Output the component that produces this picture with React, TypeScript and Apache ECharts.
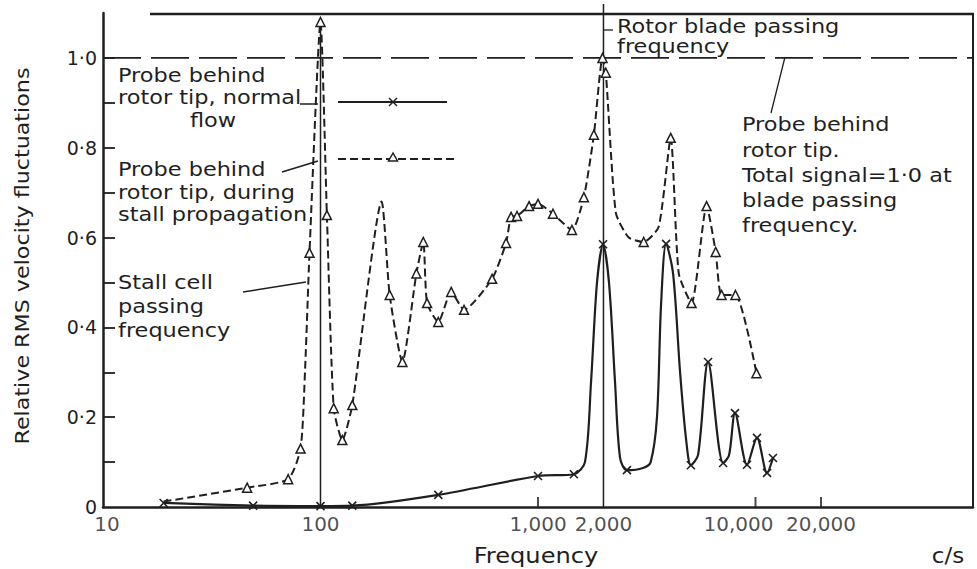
import React, { useEffect, useRef } from 'react';
import * as echarts from 'echarts';

// ---- axis ticks / labels ----
const X_TICK_VALUES = [10, 100, 1000, 2000, 10000, 20000];
const X_TICK_LABELS = ['10', '100', '1,000', '2,000', '10,000', '20,000'];
const X_TICK_MARKS = [1000, 10000, 20000];
const Y_LABEL_VALUES = [0, 0.2, 0.4, 0.6, 0.8, 1.0];
const Y_LABELS = ['0', '0·2', '0·4', '0·6', '0·8', '1·0'];
const Y_TICK_VALUES = [0.1, 0.2, 0.3, 0.4, 0.5, 0.6, 0.7, 0.8, 0.9, 1.0];
const X_TITLE = 'Frequency';
const Y_TITLE = 'Relative RMS velocity fluctuations';
const X_UNIT = 'c/s';

// ---- reference lines ----
const TOTAL_SIGNAL_LEVEL = 1.0;
const STALL_CELL_FREQ = 100;
const STALL_CELL_TOP = 1.08;
const BLADE_FREQ = 2000;
const BLADE_TOP = 1.12;

// ---- probe behind rotor tip, during stall propagation (triangles) ----
const stallFreq = [19, 46, 71, 81, 85, 89, 100, 107, 115, 126, 140, 191, 208, 238, 276, 297, 309, 348, 399, 457, 615, 713, 752, 801, 910, 1000, 1172, 1432, 1625, 1807, 1980, 2050, 2280, 2612, 3062, 3589, 4075, 4437, 5080, 5957, 6560, 6983, 8090, 10100];
const stallValue = [0.012, 0.043, 0.062, 0.13, 0.31, 0.566, 1.08, 0.65, 0.22, 0.149, 0.227, 0.68, 0.472, 0.323, 0.52, 0.59, 0.454, 0.412, 0.479, 0.439, 0.508, 0.588, 0.646, 0.648, 0.67, 0.675, 0.653, 0.617, 0.69, 0.829, 1.0, 0.967, 0.655, 0.6, 0.59, 0.624, 0.822, 0.52, 0.454, 0.67, 0.568, 0.472, 0.472, 0.298];
const stallMarked = [0, 1, 1, 1, 0, 1, 1, 1, 1, 1, 1, 0, 1, 1, 1, 1, 1, 1, 1, 1, 1, 1, 1, 1, 1, 1, 1, 1, 1, 1, 1, 1, 0, 0, 1, 0, 1, 0, 1, 1, 1, 1, 1, 1];

// ---- probe behind rotor tip, normal flow (crosses) ----
const normalFreq = [19, 49, 100, 140, 348, 1000, 1462, 1644, 1754, 1868, 1991, 2120, 2259, 2383, 2564, 3041, 3296, 3524, 3679, 3881, 4178, 4500, 4797, 5047, 5445, 6053, 7100, 7555, 8050, 9140, 10160, 11300, 12030];
const normalValue = [0.009, 0.003, 0.002, 0.003, 0.027, 0.069, 0.073, 0.1, 0.28, 0.5, 0.585, 0.5, 0.28, 0.11, 0.082, 0.087, 0.1, 0.2, 0.45, 0.586, 0.52, 0.3, 0.15, 0.093, 0.116, 0.323, 0.098, 0.115, 0.209, 0.094, 0.154, 0.076, 0.109];
const normalMarked = [1, 1, 1, 1, 1, 1, 1, 0, 0, 0, 1, 0, 0, 0, 1, 0, 0, 0, 0, 1, 0, 0, 0, 1, 0, 1, 1, 0, 1, 1, 1, 1, 1];

// ---- annotation texts ----
const NOTE_NORMAL = 'Probe behind\nrotor tip, normal';
const NOTE_NORMAL_TAIL = 'flow';
const NOTE_STALL = 'Probe behind\nrotor tip, during\nstall propagation';
const NOTE_CELL = 'Stall cell\npassing\nfrequency';
const NOTE_BLADE = 'Rotor blade passing\nfrequency';
const NOTE_TOTAL = 'Probe behind\nrotor tip.\nTotal signal=1·0 at\nblade passing\nfrequency.';

const INK = '#1f1f1f';
const FONT = '"DejaVu Sans", sans-serif';
const CROSS = 'path://M0,0L10,10M10,0L0,10';
const STRETCH = 1.18;

function pts(freq: number[], val: number[], marked: number[]) {
  return freq.map((f, i) => (marked[i] ? { value: [f, val[i]] } : { value: [f, val[i]], symbol: 'none' }));
}

function block(text: string, x: number, firstCenterY: number, lineHeight: number, size = 19, align = 'left') {
  return {
    type: 'text',
    x,
    y: firstCenterY - lineHeight / 2,
    scaleX: STRETCH,
    silent: true,
    style: {
      text,
      fill: INK,
      font: `${size}px "DejaVu Sans", sans-serif`,
      align,
      verticalAlign: 'top',
      lineHeight,
    },
  };
}
function seg(x1: number, y1: number, x2: number, y2: number, width = 1.5, dash?: number[]) {
  return {
    type: 'line',
    silent: true,
    shape: { x1, y1, x2, y2 },
    style: { stroke: INK, lineWidth: width, lineDash: dash },
  };
}

export default function App() {
  const ref = useRef<HTMLDivElement>(null);
  useEffect(() => {
    if (!ref.current) return;
    const chart = echarts.init(ref.current, undefined, { renderer: 'svg' });
    const labelShift: Record<string, number[]> = { '10': [4, 0], '10,000': [-17, 0] };
    const option: any = {
      animation: false,
      backgroundColor: '#ffffff',
      grid: { left: 103, right: 4, top: 13, bottom: 62 },
      xAxis: {
        type: 'log',
        logBase: 10,
        min: 10,
        max: 100000,
        axisLine: { show: true, lineStyle: { color: INK, width: 2.5 } },
        axisTick: { show: false },
        minorTick: { show: false },
        axisLabel: { show: false },
        splitLine: { show: false },
      },
      yAxis: {
        type: 'value',
        min: 0,
        max: 1.1,
        interval: 0.1,
        axisLine: { show: true, lineStyle: { color: INK, width: 2.5 } },
        axisTick: { show: true, inside: true, length: 12, customValues: Y_TICK_VALUES, lineStyle: { color: INK, width: 1.8 } },
        axisLabel: {
          customValues: Y_LABEL_VALUES,
          formatter: (v: number) => {
            const i = Y_LABEL_VALUES.findIndex((t) => Math.abs(t - v) < 1e-6);
            return i >= 0 ? Y_LABELS[i] : '';
          },
          fontFamily: FONT,
          fontSize: 19,
          color: INK,
          margin: 6,
        },
        splitLine: { show: false },
      },
      series: [
        {
          name: 'Total signal',
          type: 'line',
          data: [[10, TOTAL_SIGNAL_LEVEL], [100000, TOTAL_SIGNAL_LEVEL]],
          symbol: 'none',
          silent: true,
          lineStyle: { color: INK, width: 1.6, type: [38, 10] },
        },
        {
          name: 'Stall cell passing frequency',
          type: 'line',
          data: [[STALL_CELL_FREQ, 0], [STALL_CELL_FREQ, STALL_CELL_TOP]],
          symbol: 'none',
          silent: true,
          lineStyle: { color: INK, width: 1.5 },
        },
        {
          name: 'Rotor blade passing frequency',
          type: 'line',
          data: [[BLADE_FREQ, 0], [BLADE_FREQ, BLADE_TOP]],
          symbol: 'none',
          silent: true,
          clip: false,
          lineStyle: { color: INK, width: 1.5 },
        },
        {
          name: 'Probe behind rotor tip, during stall propagation',
          type: 'line',
          data: pts(stallFreq, stallValue, stallMarked),
          smooth: 0.2,
          symbol: 'triangle',
          symbolSize: 9,
          itemStyle: { color: '#ffffff', borderColor: INK, borderWidth: 1.5 },
          lineStyle: { color: INK, width: 2, type: [8, 4] },
          z: 3,
        },
        {
          name: 'Probe behind rotor tip, normal flow',
          type: 'line',
          data: pts(normalFreq, normalValue, normalMarked),
          smooth: 0.3,
          symbol: CROSS,
          symbolSize: 8,
          itemStyle: { color: INK, borderColor: INK, borderWidth: 1.6 },
          lineStyle: { color: INK, width: 2.2 },
          z: 3,
        },
        {
          name: 'x ticks',
          type: 'scatter',
          data: X_TICK_MARKS.map((f) => [f, 0]),
          symbol: 'rect',
          symbolSize: [2, 10],
          symbolOffset: [0, -5],
          itemStyle: { color: INK },
          silent: true,
          clip: false,
        },
        {
          name: 'x labels',
          type: 'scatter',
          data: X_TICK_VALUES.map((f, i) => ({
            value: [f, 0],
            label: { offset: labelShift[X_TICK_LABELS[i]] || [0, 0] },
          })),
          symbolSize: 1,
          itemStyle: { color: 'rgba(0,0,0,0)' },
          silent: true,
          clip: false,
          label: {
            show: true,
            position: 'bottom',
            distance: 6,
            formatter: (p: any) => X_TICK_LABELS[p.dataIndex],
            fontFamily: FONT,
            fontSize: 20,
            color: INK,
          },
        },
      ],
      graphic: [
        // frame (top and right)
        seg(150, 14, 974, 14, 2.5),
        seg(973, 14, 973, 507, 2),
        // axis titles
        {
          type: 'text',
          x: 23,
          y: 256,
          rotation: Math.PI / 2,
          scaleX: 1.17,
          silent: true,
          style: { text: Y_TITLE, fill: INK, font: `19px "DejaVu Sans", sans-serif`, align: 'center', verticalAlign: 'middle' },
        },
        {
          type: 'text',
          x: 536,
          y: 556,
          scaleX: 1.15,
          silent: true,
          style: { text: X_TITLE, fill: INK, font: `21px "DejaVu Sans", sans-serif`, align: 'center', verticalAlign: 'middle' },
        },
        {
          type: 'text',
          x: 948,
          y: 556,
          scaleX: 1.1,
          silent: true,
          style: { text: X_UNIT, fill: INK, font: `21px "DejaVu Sans", sans-serif`, align: 'center', verticalAlign: 'middle' },
        },
        // left annotations
        block(NOTE_NORMAL, 118, 76, 22),
        block(NOTE_NORMAL_TAIL, 213, 121, 22, 19, 'center'),
        seg(300, 104, 318, 104, 1.5),
        seg(338, 102, 447, 102, 2),
        seg(389, 98, 397, 106, 1.5),
        seg(389, 106, 397, 98, 1.5),
        block(NOTE_STALL, 118, 170, 22.5),
        seg(282, 172, 318, 161, 1.5),
        seg(338, 159, 457, 159, 2, [8, 4]),
        {
          type: 'polygon',
          silent: true,
          shape: { points: [[393, 153], [388.5, 161], [397.5, 161]] },
          style: { fill: '#fff', stroke: INK, lineWidth: 1.5 },
        },
        block(NOTE_CELL, 118, 283, 24),
        seg(243, 292, 306, 282, 1.5),
        // right annotations
        seg(603, 30, 613, 30, 1.3),
        block(NOTE_BLADE, 617, 27, 20),
        block(NOTE_TOTAL, 742, 125, 25.25),
        seg(771, 113, 785, 57, 1.3),
      ],
    };
    chart.setOption(option);
    return () => chart.dispose();
  }, []);
  return <div ref={ref} style={{ width: 977, height: 569, position: 'absolute', left: 0, top: 0 }} />;
}
